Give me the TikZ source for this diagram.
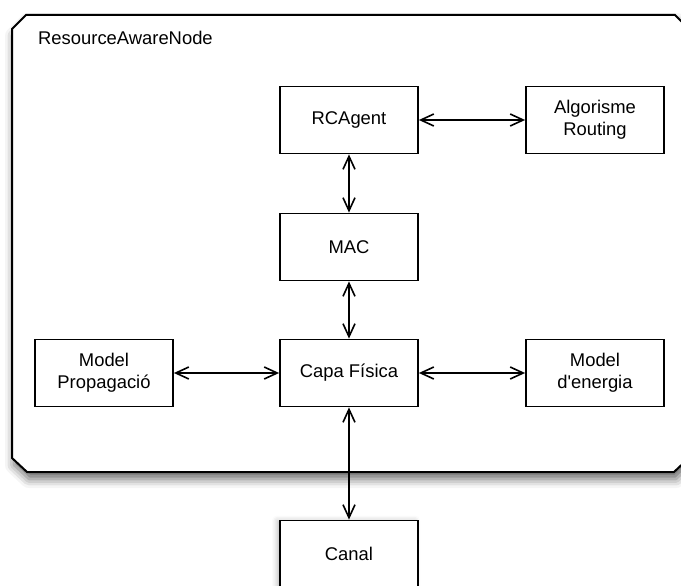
\documentclass[tikz,border=0pt]{standalone}
\usepackage{fontspec}
\setmainfont{Liberation Sans}
\usetikzlibrary{arrows.meta,shadows.blur}

\begin{document}
\begin{tikzpicture}[x=1pt,y=-1pt,
  block/.style={draw=black, line width=1.8pt, fill=white, minimum width=138pt,
    minimum height=67pt, inner sep=0pt, align=center,
    font=\fontsize{18.4}{22}\selectfont},
  barb/.tip={Straight Barb[length=13pt,width=12pt,line width=1.6pt]},
  link/.style={line width=1.7pt, barb-barb}
]
\useasboundingbox (0,0) rectangle (681,586);
\clip (0,0) rectangle (681,586);

% chamfered container with its soft drop shadow
\path[draw=black, line width=2pt, fill=white,
  blur shadow={shadow xshift=2pt, shadow yshift=-7pt, shadow blur radius=9pt, shadow opacity=60}]
  (12,29) -- (26,15) -- (675,15) -- (690,30) -- (690,457) -- (674,472)
  -- (27,472) -- (12,458) -- cycle;
\node[anchor=base west, inner sep=0pt, font=\fontsize{18.4}{22}\selectfont] (title) at (38,45) {ResourceAwareNode};

% component blocks
\node[block] (rc)    at (349,120) {RCAgent};
\node[block] (alg)   at (595,120) {Algorisme\\Routing};
\node[block] (mac)   at (349,247) {MAC};
\node[block] (phy)   at (349,373) {Capa Física};
\node[block] (prop)  at (104,373) {Model\\Propagació};
\node[block] (ener)  at (595,373) {Model\\d\textquotesingle energia};
\node[block, blur shadow={shadow xshift=-3pt, shadow yshift=0pt, shadow blur radius=5pt, shadow opacity=25}]
  (canal) at (349,554) {Canal};

% bidirectional links
\draw[link] (rc) -- (alg);
\draw[link] (rc) -- (mac);
\draw[link] (mac) -- (phy);
\draw[link] (prop) -- (phy);
\draw[link] (phy) -- (ener);
\draw[link] (phy) -- (canal);
\end{tikzpicture}
\end{document}
